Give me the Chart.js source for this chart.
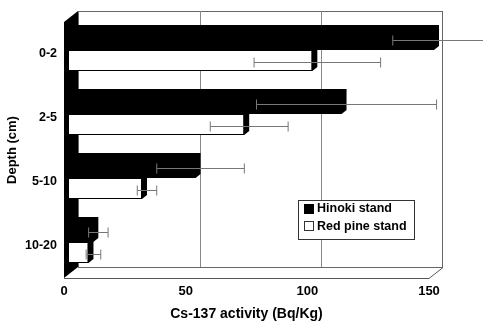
<!DOCTYPE html>
<html>
<head>
<meta charset="utf-8">
<script src="https://cdn.jsdelivr.net/npm/chart.js@4/dist/chart.umd.min.js"></script>
<style>
  html, body { margin: 0; padding: 0; background: #fff; }
  #wrap { width: 483px; height: 327px; }
</style>
</head>
<body>
<div id="wrap"><canvas id="chart" width="483" height="327"></canvas></div>
<script>
// data
const depths = ['0-2', '2-5', '5-10', '10-20']
const hinoki = [150, 112, 52, 10]
const hinokiErr = [19, 37, 18, 4]
const redPine = [100, 72, 30, 8]
const redPineErr = [26, 16, 4, 3]
const xTicks = [0, 50, 100, 150]

const FONT = '"Liberation Sans", Arial, sans-serif'
// 3d look: bars sit a bit behind the front plane, walls further back
const BAR_SHIFT = {x: 5, y: -4}
const BAR_DEPTH = {x: 5, y: -4}
const WALL = {x: 14, y: -11}

// walls, floor and back grid
const wallsPlugin = {
    id: 'walls',
    beforeDraw(chart) {
        const ctx = chart.ctx
        const a = chart.chartArea
        const xs = chart.scales.x
        ctx.save()
        // left side wall (solid black)
        ctx.fillStyle = '#000'
        ctx.beginPath()
        ctx.moveTo(a.left, a.top)
        ctx.lineTo(a.left + WALL.x, a.top + WALL.y)
        ctx.lineTo(a.left + WALL.x, a.bottom + WALL.y)
        ctx.lineTo(a.left, a.bottom)
        ctx.closePath()
        ctx.fill()
        // back wall outline
        ctx.strokeStyle = '#666'
        ctx.lineWidth = 1
        ctx.strokeRect(a.left + WALL.x + 0.5, a.top + WALL.y + 0.5, a.right - a.left - 1, a.bottom - a.top)
        // gridlines on the back wall
        ctx.strokeStyle = '#888'
        xTicks.slice(1, -1).forEach(v => {
            const px = Math.round(xs.getPixelForValue(v) + WALL.x) + 0.5
            ctx.beginPath()
            ctx.moveTo(px, a.top + WALL.y)
            ctx.lineTo(px, a.bottom + WALL.y)
            ctx.stroke()
        })
        // floor
        ctx.strokeStyle = '#555'
        ctx.beginPath()
        ctx.moveTo(a.left, a.bottom + 0.5)
        ctx.lineTo(a.right, a.bottom + 0.5)
        ctx.lineTo(a.right + WALL.x, a.bottom + WALL.y + 0.5)
        ctx.stroke()
        ctx.restore()
    },
    beforeDatasetsDraw(chart) {
        const ctx = chart.ctx
        ctx.save()
        ctx.translate(BAR_SHIFT.x, BAR_SHIFT.y)
        // depth of every bar first, then the library draws the front faces
        ctx.fillStyle = '#000'
        chart.data.datasets.forEach((ds, i) => {
            chart.getDatasetMeta(i).data.forEach(bar => {
                const x0 = bar.base, x1 = bar.x
                const y0 = bar.y - bar.height / 2, y1 = bar.y + bar.height / 2
                ctx.beginPath()
                ctx.moveTo(x0, y0)
                ctx.lineTo(x0 + BAR_DEPTH.x, y0 + BAR_DEPTH.y)
                ctx.lineTo(x1 + BAR_DEPTH.x, y0 + BAR_DEPTH.y)
                ctx.lineTo(x1 + BAR_DEPTH.x, y1 + BAR_DEPTH.y)
                ctx.lineTo(x1, y1)
                ctx.lineTo(x0, y1)
                ctx.closePath()
                ctx.fill()
            })
        })
    },
    afterDatasetsDraw(chart) {
        const ctx = chart.ctx
        ctx.restore()
        const xs = chart.scales.x
        const errs = [hinokiErr, redPineErr]
        ctx.save()
        ctx.strokeStyle = '#777'
        ctx.lineWidth = 1
        chart.data.datasets.forEach((ds, i) => {
            chart.getDatasetMeta(i).data.forEach((bar, j) => {
                const v = ds.data[j]
                const e = errs[i][j]
                const dx = BAR_SHIFT.x + BAR_DEPTH.x
                const lo = xs.getPixelForValue(v - e) + dx
                const hi = xs.getPixelForValue(v + e) + dx
                const y = Math.round(bar.y + BAR_SHIFT.y + 1) + 0.5
                ctx.beginPath()
                ctx.moveTo(lo, y)
                ctx.lineTo(hi, y)
                ctx.moveTo(lo, y - 5)
                ctx.lineTo(lo, y + 5)
                ctx.moveTo(hi, y - 5)
                ctx.lineTo(hi, y + 5)
                ctx.stroke()
            })
        })
        ctx.restore()
    },
    afterDraw(chart) {
        // legend box
        const ctx = chart.ctx
        ctx.save()
        ctx.fillStyle = '#fff'
        ctx.fillRect(298, 200, 116, 39)
        ctx.strokeStyle = '#333'
        ctx.strokeRect(298.5, 200.5, 116, 39)
        ctx.fillStyle = '#000'
        ctx.fillRect(304, 204, 10, 10)
        ctx.strokeRect(304.5, 221.5, 9, 9)
        ctx.font = 'bold 12.5px ' + FONT
        ctx.textBaseline = 'middle'
        ctx.fillText('Hinoki stand', 317, 209)
        ctx.fillText('Red pine stand', 317, 226.5)
        ctx.restore()
    }
}

new Chart(document.getElementById('chart'), {
    type: 'bar',
    data: {
        labels: depths,
        datasets: [
            {label: 'Hinoki stand', data: hinoki, backgroundColor: '#000', borderColor: '#000', borderWidth: 1},
            {label: 'Red pine stand', data: redPine, backgroundColor: '#fff', borderColor: '#000', borderWidth: 1}
        ]
    },
    options: {
        indexAxis: 'y',
        responsive: false,
        animation: false,
        events: [],
        layout: {padding: {top: 22, right: 54, left: 0, bottom: 0}},
        datasets: {bar: {categoryPercentage: 0.66, barPercentage: 1, clip: false}},
        plugins: {legend: {display: false}, tooltip: {enabled: false}},
        scales: {
            x: {
                min: 0, max: 150,
                afterBuildTicks: axis => { axis.ticks = xTicks.map(v => ({value: v})) },
                grid: {display: false, drawTicks: false},
                border: {display: false},
                ticks: {color: '#000', padding: 6, font: {family: FONT, size: 13, weight: 'bold'}},
                title: {display: true, text: 'Cs-137 activity (Bq/Kg)', color: '#000', padding: {top: 8, bottom: 4}, font: {family: FONT, size: 14, weight: 'bold'}},
                afterFit: axis => { axis.height = 49 }
            },
            y: {
                grid: {display: false, drawTicks: false},
                border: {display: false},
                ticks: {color: '#000', padding: 7, font: {family: FONT, size: 12.5, weight: 'bold'}},
                title: {display: true, text: 'Depth (cm)', color: '#000', padding: {top: 5, bottom: 4}, font: {family: FONT, size: 13, weight: 'bold'}},
                afterFit: axis => { axis.width = 64 }
            }
        }
    },
    plugins: [wallsPlugin]
})
</script>
</body>
</html>
